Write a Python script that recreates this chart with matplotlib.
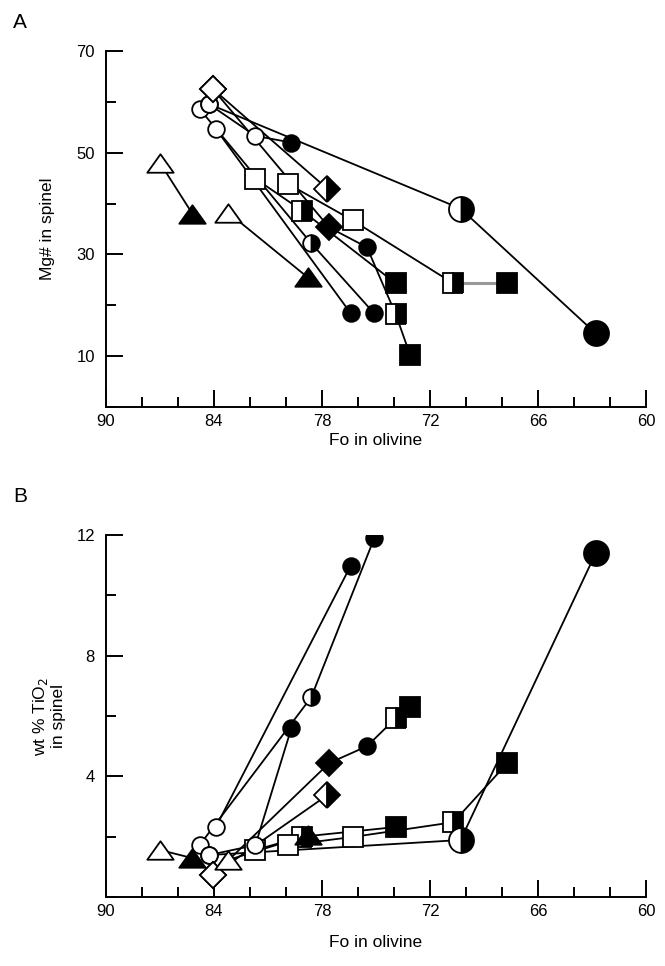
import numpy as np
import matplotlib.pyplot as plt
from matplotlib.path import Path
from matplotlib.ticker import MultipleLocator

plt.rcParams['font.family'] = ['Liberation Sans', 'DejaVu Sans']

# each sample: Fo in olivine, Mg# in spinel, wt% TiO2 in spinel, symbol of each point
# symbol code: shape (o, s, D, ^) + fill (o=open, f=filled, h=half) + optional B (big)
tri1_fo = [87.0, 85.2]
tri1_mg = [48.0, 38.0]
tri1_ti = [1.56, 1.29]
tri1_sym = ['^o', '^f']

tri2_fo = [83.2, 78.8]
tri2_mg = [38.2, 25.5]
tri2_ti = [1.23, 2.05]
tri2_sym = ['^o', '^f']

dia1_fo = [84.05, 77.7]
dia1_mg = [62.5, 42.9]
dia1_ti = [0.73, 3.38]
dia1_sym = ['Do', 'Dh']

dia2_fo = [84.05, 77.6, 75.5, 73.9, 73.1]
dia2_mg = [62.5, 35.3, 31.4, 18.2, 10.2]
dia2_ti = [0.73, 4.44, 5.0, 5.93, 6.29]
dia2_sym = ['Do', 'Df', 'of', 'sh', 'sf']

circ1_fo = [84.8, 78.6, 75.1]
circ1_mg = [58.6, 32.2, 18.4]
circ1_ti = [1.72, 6.62, 11.89]
circ1_sym = ['oo', 'oh', 'of']

circ2_fo = [83.9, 76.4]
circ2_mg = [54.7, 18.4]
circ2_ti = [2.32, 10.99]
circ2_sym = ['oo', 'of']

circ3_fo = [84.3, 70.3, 62.8]
circ3_mg = [59.6, 39.0, 14.5]
circ3_ti = [1.39, 1.89, 11.39]
circ3_sym = ['oo', 'ohB', 'ofB']

circ4_fo = [84.3, 81.7, 79.7]
circ4_mg = [59.6, 53.3, 52.0]
circ4_ti = [1.39, 1.72, 5.6]
circ4_sym = ['oo', 'oo', 'of']

sq1_fo = [81.7, 79.1, 73.9]
sq1_mg = [44.9, 38.6, 24.3]
sq1_ti = [1.56, 2.0, 2.32]
sq1_sym = ['so', 'sh', 'sf']

sq2_fo = [79.9, 76.3, 70.7, 67.7]
sq2_mg = [43.9, 36.7, 24.3, 24.3]
sq2_ti = [1.72, 1.99, 2.48, 4.44]
sq2_sym = ['so', 'so', 'sh', 'sf']

samples = [
    (sq1_fo, sq1_mg, sq1_ti, sq1_sym),
    (sq2_fo, sq2_mg, sq2_ti, sq2_sym),
    (circ1_fo, circ1_mg, circ1_ti, circ1_sym),
    (circ2_fo, circ2_mg, circ2_ti, circ2_sym),
    (circ3_fo, circ3_mg, circ3_ti, circ3_sym),
    (circ4_fo, circ4_mg, circ4_ti, circ4_sym),
    (dia1_fo, dia1_mg, dia1_ti, dia1_sym),
    (dia2_fo, dia2_mg, dia2_ti, dia2_sym),
    (tri1_fo, tri1_mg, tri1_ti, tri1_sym),
    (tri2_fo, tri2_mg, tri2_ti, tri2_sym),
]

tri_marker = Path([(0, 0.7), (-1, -0.7), (1, -0.7), (0, 0.7)],
                  [Path.MOVETO, Path.LINETO, Path.LINETO, Path.CLOSEPOLY])
shapes = {'o': ('o', 12), 's': ('s', 14), 'D': ('D', 13), '^': (tri_marker, 19)}


def draw_point(ax, x, y, sym):
    mk, ms = shapes[sym[0]]
    if sym.endswith('B'):
        ms = 18
    kw = dict(marker=mk, ms=ms, mec='k', mew=1.3, ls='none', zorder=3)
    if sym[1] == 'o':
        kw.update(mfc='white')
    elif sym[1] == 'f':
        kw.update(mfc='k')
    else:
        kw.update(mfc='k', fillstyle='right', markerfacecoloralt='white')
    ax.plot([x], [y], **kw)


fig = plt.figure(figsize=(6.65, 9.66), dpi=100)
axA = fig.add_axes([0.1594, 0.5787, 0.812, 0.3685])
axB = fig.add_axes([0.1594, 0.0714, 0.812, 0.3747])

for ax, col in [(axA, 1), (axB, 2)]:
    for s in samples:
        fo, yv, syms = s[0], s[col], s[3]
        for i in range(len(fo) - 1):
            grey = (ax is axA and s is samples[1] and i == len(fo) - 2)
            ax.plot(fo[i:i + 2], yv[i:i + 2],
                    color='0.6' if grey else 'k', lw=2.2 if grey else 1.3, zorder=2)
    for s in samples:
        for x, y, sym in zip(s[0], s[col], s[3]):
            draw_point(ax, x, y, sym)

    ax.set_xlim(90, 60)
    ax.xaxis.set_major_locator(MultipleLocator(6))
    ax.xaxis.set_minor_locator(MultipleLocator(2))
    ax.spines['top'].set_visible(False)
    ax.spines['right'].set_visible(False)
    for sp in ['left', 'bottom']:
        ax.spines[sp].set_linewidth(1.4)
    ax.tick_params(which='both', direction='in', width=1.4, labelsize=12)
    ax.tick_params(which='major', length=12)
    ax.tick_params(which='minor', length=7)
    ax.tick_params(axis='y', which='major', pad=8)
    ax.tick_params(axis='x', which='major', pad=5)

axA.set_ylim(0, 70)
axA.set_yticks([10, 30, 50, 70])
axA.yaxis.set_minor_locator(MultipleLocator(10))
axA.set_ylabel('Mg# in spinel', fontsize=12.5)
axA.yaxis.set_label_coords(-0.094, 0.5)
axA.set_xlabel('Fo in olivine', fontsize=12.5)
axA.xaxis.set_label_coords(0.5, -0.073)

axB.set_ylim(0, 12)
axB.set_yticks([4, 8, 12])
axB.yaxis.set_minor_locator(MultipleLocator(2))
axB.set_ylabel('wt % TiO$_2$\nin spinel', fontsize=12.5, linespacing=1.1)
axB.yaxis.set_label_coords(-0.074, 0.5)
axB.set_xlabel('Fo in olivine', fontsize=12.5)
axB.xaxis.set_label_coords(0.5, -0.105)

fig.text(0.02, 0.987, 'A', fontsize=15, va='top')
fig.text(0.02, 0.496, 'B', fontsize=15, va='top')

fig.savefig('out.png', dpi=100)
